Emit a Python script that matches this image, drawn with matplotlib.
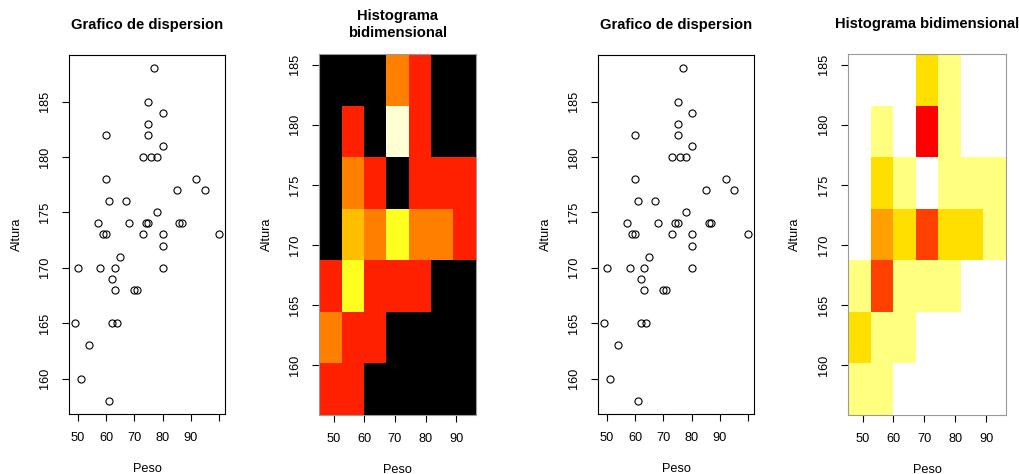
import numpy as np
import matplotlib
matplotlib.use("Agg")
import matplotlib.pyplot as plt
from matplotlib.colors import ListedColormap, BoundaryNorm

plt.rcParams['font.family'] = ['Liberation Sans', 'DejaVu Sans']

# peso (kg) y altura (cm) de cada persona
peso = [77, 75, 80, 75, 75, 60, 80, 73, 76, 78, 60, 92, 85, 95, 61, 67,
        78, 57, 68, 74, 75, 86, 87, 59, 60, 73, 80, 100, 80, 65, 50, 58,
        63, 80, 62, 63, 70, 71, 49, 62, 64, 54, 51, 61]
altura = [188, 185, 184, 183, 182, 182, 181, 180, 180, 180, 178, 178, 177, 177, 176, 176,
          175, 174, 174, 174, 174, 174, 174, 173, 173, 173, 173, 173, 172, 171, 170, 170,
          170, 170, 169, 168, 168, 168, 165, 165, 165, 163, 160, 158]

xticks = [50, 60, 70, 80, 90]
yticks = [160, 165, 170, 175, 180, 185]
n_bins = 7

# colores por conteo (0..5)
colores_hot = ['#000000', '#FF2000', '#FF8000', '#FFBF00', '#FFFF20', '#FFFFD5']
colores_heat = ['#FFFFFF', '#FFFF80', '#FFDF00', '#FF9F00', '#FF4000', '#FF0000']

FS = 9.2
FS_TITLE = 10.6

fig = plt.figure(figsize=(10.2, 4.74), dpi=100)
W, H = 1020, 474


def caja(x0, x1, y0, y1):
    return [x0 / W, 1 - y1 / H, (x1 - x0) / W, (y1 - y0) / H]


def ejes(ax, titulo, color_marco):
    ax.tick_params(direction='out', length=5, width=0.8, labelsize=FS, pad=8, colors='black')
    ax.set_yticks(yticks)
    ax.set_yticklabels([str(v) for v in yticks], rotation=90, va='center')
    for s in ax.spines.values():
        s.set_color(color_marco)
        s.set_linewidth(0.8)
    ax.set_xlabel('Peso', fontsize=FS)
    ax.set_ylabel('Altura', fontsize=FS)
    ax.xaxis.set_label_coords(0.5, -54.7 / 360)
    ax.xaxis.label.set_va('center')
    ax.yaxis.set_label_coords(-52.6 / 156, 0.5)
    ax.yaxis.label.set_va('center')
    ax.set_title(titulo, fontsize=FS_TITLE, fontweight='bold', y=1 + 30 / 360, va='center', pad=0,
                 linespacing=1.25)


def dispersion(rect):
    ax = fig.add_axes(rect)
    ax.plot(peso, altura, 'o', mfc='none', mec='black', ms=5.1, mew=0.8)
    xr = max(peso) - min(peso)
    yr = max(altura) - min(altura)
    ax.set_xlim(min(peso) - 0.04 * xr, max(peso) + 0.04 * xr)
    ax.set_ylim(min(altura) - 0.04 * yr, max(altura) + 0.04 * yr)
    ax.set_xticks(xticks + [100])
    ax.set_xticklabels([str(v) for v in xticks] + [''])
    ejes(ax, 'Grafico de dispersion', 'black')


def histograma(rect, colores, titulo):
    ax = fig.add_axes(rect)
    bx = np.linspace(min(peso), max(peso), n_bins + 1)
    by = np.linspace(min(altura), max(altura), n_bins + 1)
    conteo, _, _ = np.histogram2d(peso, altura, bins=[bx, by])
    # las celdas se dibujan centradas en el borde izquierdo de cada intervalo
    ex = bx - (bx[1] - bx[0]) / 2
    ey = by - (by[1] - by[0]) / 2
    cmap = ListedColormap(colores)
    norm = BoundaryNorm(np.arange(-0.5, len(colores) + 0.5), cmap.N)
    ax.pcolormesh(ex, ey, conteo.T, cmap=cmap, norm=norm)
    ax.set_xlim(ex[0], ex[-1])
    ax.set_ylim(ey[0], ey[-1])
    ax.set_xticks(xticks)
    ax.set_xticklabels([str(v) for v in xticks])
    ejes(ax, titulo, '#9a9a9a')


dispersion(caja(69.3, 224.7, 55, 414))
histograma(caja(319.3, 475.7, 54.3, 415), colores_hot, 'Histograma\nbidimensional')
dispersion(caja(598.3, 754, 55, 414))
histograma(caja(848.3, 1005.7, 54.3, 415), colores_heat, 'Histograma bidimensional')

fig.savefig('out.png', dpi=100)
